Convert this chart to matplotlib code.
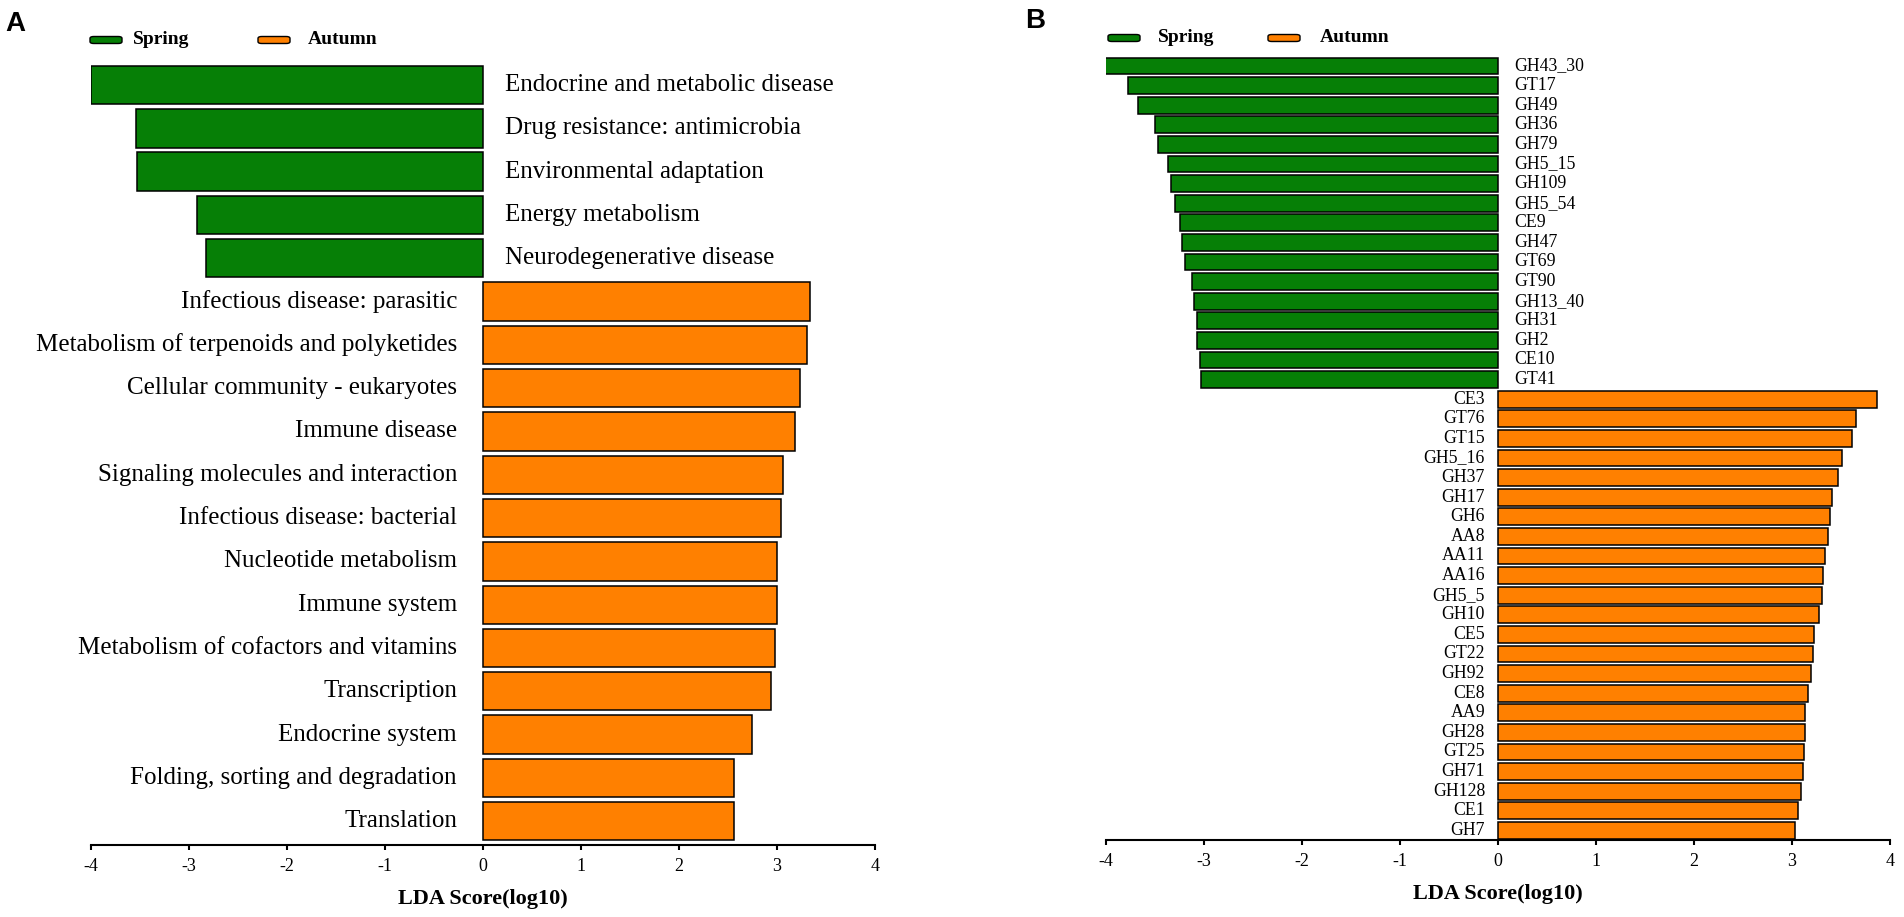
import matplotlib
matplotlib.use("Agg")
import matplotlib.pyplot as plt
from matplotlib.patches import FancyBboxPatch

# ---------------- data ----------------
a_spring_labels = ["Endocrine and metabolic disease", "Drug resistance: antimicrobia",
                   "Environmental adaptation", "Energy metabolism", "Neurodegenerative disease"]
a_spring_values = [-4.00, -3.54, -3.53, -2.92, -2.83]
a_autumn_labels = ["Infectious disease: parasitic", "Metabolism of terpenoids and polyketides",
                   "Cellular community - eukaryotes", "Immune disease",
                   "Signaling molecules and interaction", "Infectious disease: bacterial",
                   "Nucleotide metabolism", "Immune system", "Metabolism of cofactors and vitamins",
                   "Transcription", "Endocrine system", "Folding, sorting and degradation",
                   "Translation"]
a_autumn_values = [3.34, 3.31, 3.23, 3.18, 3.06, 3.04, 3.00, 3.00, 2.98, 2.94, 2.74, 2.56, 2.56]

b_spring_labels = ["GH43_30", "GT17", "GH49", "GH36", "GH79", "GH5_15", "GH109", "GH5_54",
                   "CE9", "GH47", "GT69", "GT90", "GH13_40", "GH31", "GH2", "CE10", "GT41"]
b_spring_values = [-4.01, -3.78, -3.67, -3.50, -3.47, -3.37, -3.34, -3.30, -3.24, -3.22,
                   -3.19, -3.12, -3.10, -3.07, -3.07, -3.04, -3.03]
b_autumn_labels = ["CE3", "GT76", "GT15", "GH5_16", "GH37", "GH17", "GH6", "AA8", "AA11",
                   "AA16", "GH5_5", "GH10", "CE5", "GT22", "GH92", "CE8", "AA9", "GH28",
                   "GT25", "GH71", "GH128", "CE1", "GH7"]
b_autumn_values = [3.87, 3.65, 3.61, 3.51, 3.47, 3.41, 3.39, 3.37, 3.34, 3.32, 3.31, 3.28,
                   3.22, 3.21, 3.19, 3.16, 3.13, 3.13, 3.12, 3.11, 3.09, 3.06, 3.03]

x_ticks = [-4, -3, -2, -1, 0, 1, 2, 3, 4]
group_names = ["Spring", "Autumn"]
GREEN = "#067f06"
ORANGE = "#ff8000"
SERIF = ["Liberation Serif", "DejaVu Serif"]

W, H = 1904, 917
fig = plt.figure(figsize=(W / 100, H / 100), dpi=100)
PX = 0.72  # points per pixel at dpi 100


def panel(rect_px, spring_labels, spring_values, autumn_labels, autumn_values,
          bar_h, ybottom, label_fs, off_sp, off_au, tick_fs):
    l, t, r, b = rect_px
    ax = fig.add_axes([l / W, 1 - b / H, (r - l) / W, (b - t) / H])
    labels = spring_labels + autumn_labels
    values = spring_values + autumn_values
    colors = [GREEN] * len(spring_values) + [ORANGE] * len(autumn_values)
    ypos = list(range(len(values)))
    ax.barh(ypos, values, height=bar_h, color=colors, edgecolor="black", linewidth=1.1)
    ax.set_xlim(-4, 4)
    ax.set_ylim(ybottom, -0.5)
    for y, v, lab in zip(ypos, values, labels):
        if v < 0:
            ax.annotate(lab, xy=(0, y), xytext=(off_sp * PX, 0), textcoords="offset points",
                        ha="left", va="center", fontsize=label_fs, family=SERIF)
        else:
            ax.annotate(lab, xy=(0, y), xytext=(-off_au * PX, 0), textcoords="offset points",
                        ha="right", va="center", fontsize=label_fs, family=SERIF)
    for s in ["left", "right", "top"]:
        ax.spines[s].set_visible(False)
    ax.spines["bottom"].set_linewidth(1.5)
    ax.set_yticks([])
    ax.set_xticks(x_ticks)
    ax.set_xticklabels([str(t) for t in x_ticks], fontsize=tick_fs, family=SERIF)
    ax.tick_params(axis="x", direction="out", length=3.3, width=1.5, pad=6)
    ax.set_xlabel("LDA Score(log10)", fontsize=16, fontweight="bold", family=SERIF, labelpad=10)
    ax.patch.set_alpha(0)
    return ax


axA = panel((91, 63.4, 875, 845), a_spring_labels, a_spring_values, a_autumn_labels,
            a_autumn_values, 0.885, 17.55, 18, 22, 26, 13)
axB = panel((1106, 56.2, 1890, 840), b_spring_labels, b_spring_values, b_autumn_labels,
            b_autumn_values, 0.85, 39.49, 12.8, 16, 13, 13)


def legend(x_patch1, x_text1, x_patch2, x_text2, yc):
    for xp, xt, col, name in [(x_patch1, x_text1, GREEN, group_names[0]),
                              (x_patch2, x_text2, ORANGE, group_names[1])]:
        p = FancyBboxPatch((xp / W, 1 - (yc + 3.5) / H), 32 / W, 7 / H,
                           boxstyle="round,pad=0.0,rounding_size=0.002",
                           transform=fig.transFigure, facecolor=col, edgecolor="black",
                           linewidth=1.0)
        fig.patches.append(p)
        fig.text(xt / W, 1 - yc / H, name, ha="left", va="center", fontsize=14,
                 fontweight="bold", family=SERIF)


legend(90, 133, 258, 308, 40)
legend(1108, 1158, 1268, 1320, 38)

fig.text(15 / W, 1 - 24 / H, "A", ha="center", va="center", fontsize=20, fontweight="bold",
         family=["Liberation Sans", "DejaVu Sans"])
fig.text(1035 / W, 1 - 21 / H, "B", ha="center", va="center", fontsize=20, fontweight="bold",
         family=["Liberation Sans", "DejaVu Sans"])

fig.savefig("out.png", dpi=100, facecolor="white")
